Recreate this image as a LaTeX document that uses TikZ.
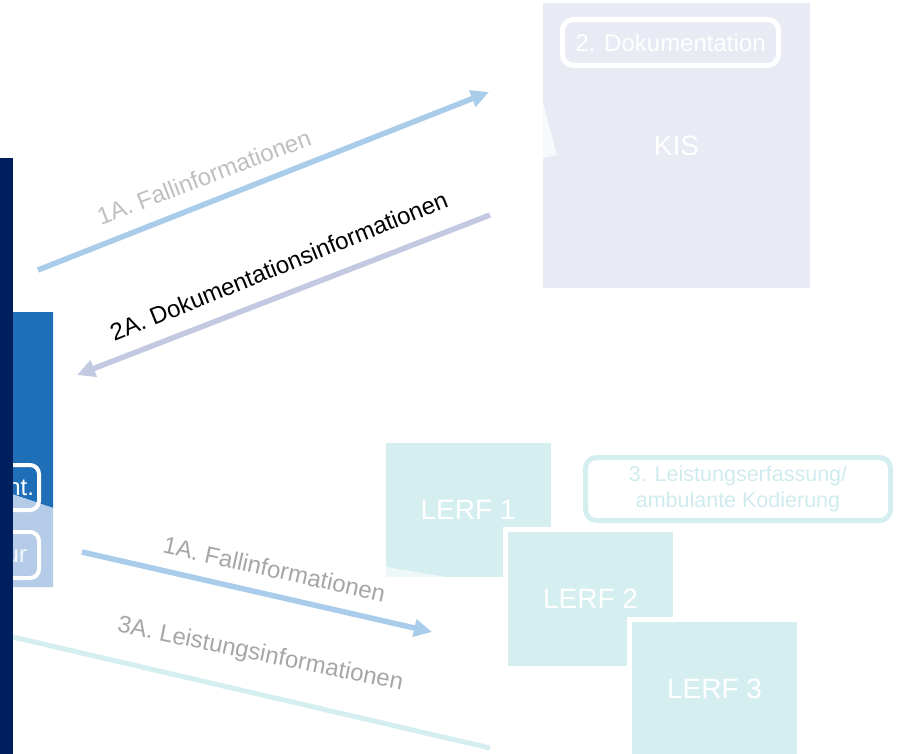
\documentclass[tikz,border=0pt]{standalone}
\usepackage{fontspec}
\setmainfont{Liberation Sans}
\usetikzlibrary{arrows.meta}

\definecolor{navybar}{HTML}{001F5F}
\definecolor{deptdark}{HTML}{1F6FB8}
\definecolor{deptlight}{HTML}{B4CCE7}
\definecolor{fallblue}{HTML}{A8CCEA}
\definecolor{dokuviolet}{HTML}{C3C9E1}
\definecolor{kisgrey}{HTML}{E8EBF4}
\definecolor{lerfteal}{HTML}{D5EEF0}
\definecolor{lerftext}{HTML}{CFEBEE}
\definecolor{labellight}{HTML}{BFBFBF}
\definecolor{labelmid}{HTML}{A6A6A6}

\begin{document}
\begin{tikzpicture}[x=1pt,y=-1pt,
  every node/.style={inner sep=0pt,outer sep=0pt},
  sysbox/.style={rectangle,text=white,font=\fontsize{28}{32}\selectfont},
  lerfbox/.style={sysbox,fill=lerfteal,draw=white,line width=5pt,minimum width=170pt,minimum height=139pt},
  stepframe/.style={rectangle,rounded corners=11pt,line width=5pt},
  flow/.style={line width=5.5pt,-{Triangle[length=18pt,width=17pt]}},
  flowlabel/.style={anchor=base,font=\fontsize{24}{28}\selectfont}]
\useasboundingbox (0,0) rectangle (905,754);

% department block on the left
\fill [deptdark] (0,312) -- (53,312) -- (53,508) -- (0,490) -- cycle;
\fill [deptlight] (0,490) -- (53,508) -- (53,587) -- (0,587) -- cycle;
\draw [white,line width=4pt,rounded corners=9pt] (-30,465) rectangle (39,510);
\draw [white,line width=4pt,rounded corners=9pt] (-30,532) rectangle (39,578);
\node (dept1) [anchor=base east,text=white,font=\fontsize{24}{28}\selectfont] at (34,495) {nt.};
\node (dept2) [anchor=base east,text=white!85!deptlight,font=\fontsize{24}{28}\selectfont] at (27,562) {ur};

% 3A line runs under the bar
\coordinate (leist_s) at (0,634);
\coordinate (leist_e) at (490,748);
\draw [lerfteal,line width=5pt] (leist_s) -- (leist_e);
\fill [navybar] (0,158) rectangle (13,754);

% KIS
\node (kis) [sysbox,fill=kisgrey,minimum width=267pt,minimum height=285pt] at (676.5,145.5) {KIS};
\fill [white!70!kisgrey] (543,103) -- (557,155) -- (543,158) -- cycle;
\node (doku) [stepframe,draw=white,minimum width=216pt,minimum height=46pt,
  text=white,font=\fontsize{24}{28}\selectfont] at (670.5,42.5) {2. Dokumentation};

% LERF systems
\node (lerf1) [lerfbox] at (468,510) {LERF 1};
\fill [white!60!lerfteal] (386,567) -- (447,577) -- (386,577) -- cycle;
\node (lerf2) [lerfbox] at (590.5,599) {LERF 2};
\node (lerf3) [lerfbox] at (714.5,689) {LERF 3};
\node (lerfstep) [stepframe,draw=lerfteal,minimum width=305pt,minimum height=63pt,align=center,
  text=lerftext,font=\fontsize{21.5}{26}\selectfont] at (738,489) {3. Leistungserfassung/\\ambulante Kodierung};

% flows
\coordinate (fall_s) at (38,270);
\coordinate (fall_e) at (489,92);
\draw [flow,fallblue] (fall_s) -- (fall_e);
\coordinate (doku_s) at (490,215);
\coordinate (doku_e) at (77,375);
\draw [flow,dokuviolet] (doku_s) -- (doku_e);
\coordinate (fall2_s) at (82,552);
\coordinate (fall2_e) at (432,632);
\draw [flow,fallblue] (fall2_s) -- (fall2_e);

\node (lbl1) [flowlabel,text=labellight,rotate=20.8] at (207,185) {1A. Fallinformationen};
\node (lbl2) [flowlabel,text=black,rotate=22] at (282,274) {2A. Dokumentationsinformationen};
\node (lbl3) [flowlabel,text=labelmid,rotate=-12.6] at (272.5,577.5) {1A. Fallinformationen};
\node (lbl4) [flowlabel,text=labelmid,rotate=-11.6] at (259,661) {3A. Leistungsinformationen};
\end{tikzpicture}
\end{document}
